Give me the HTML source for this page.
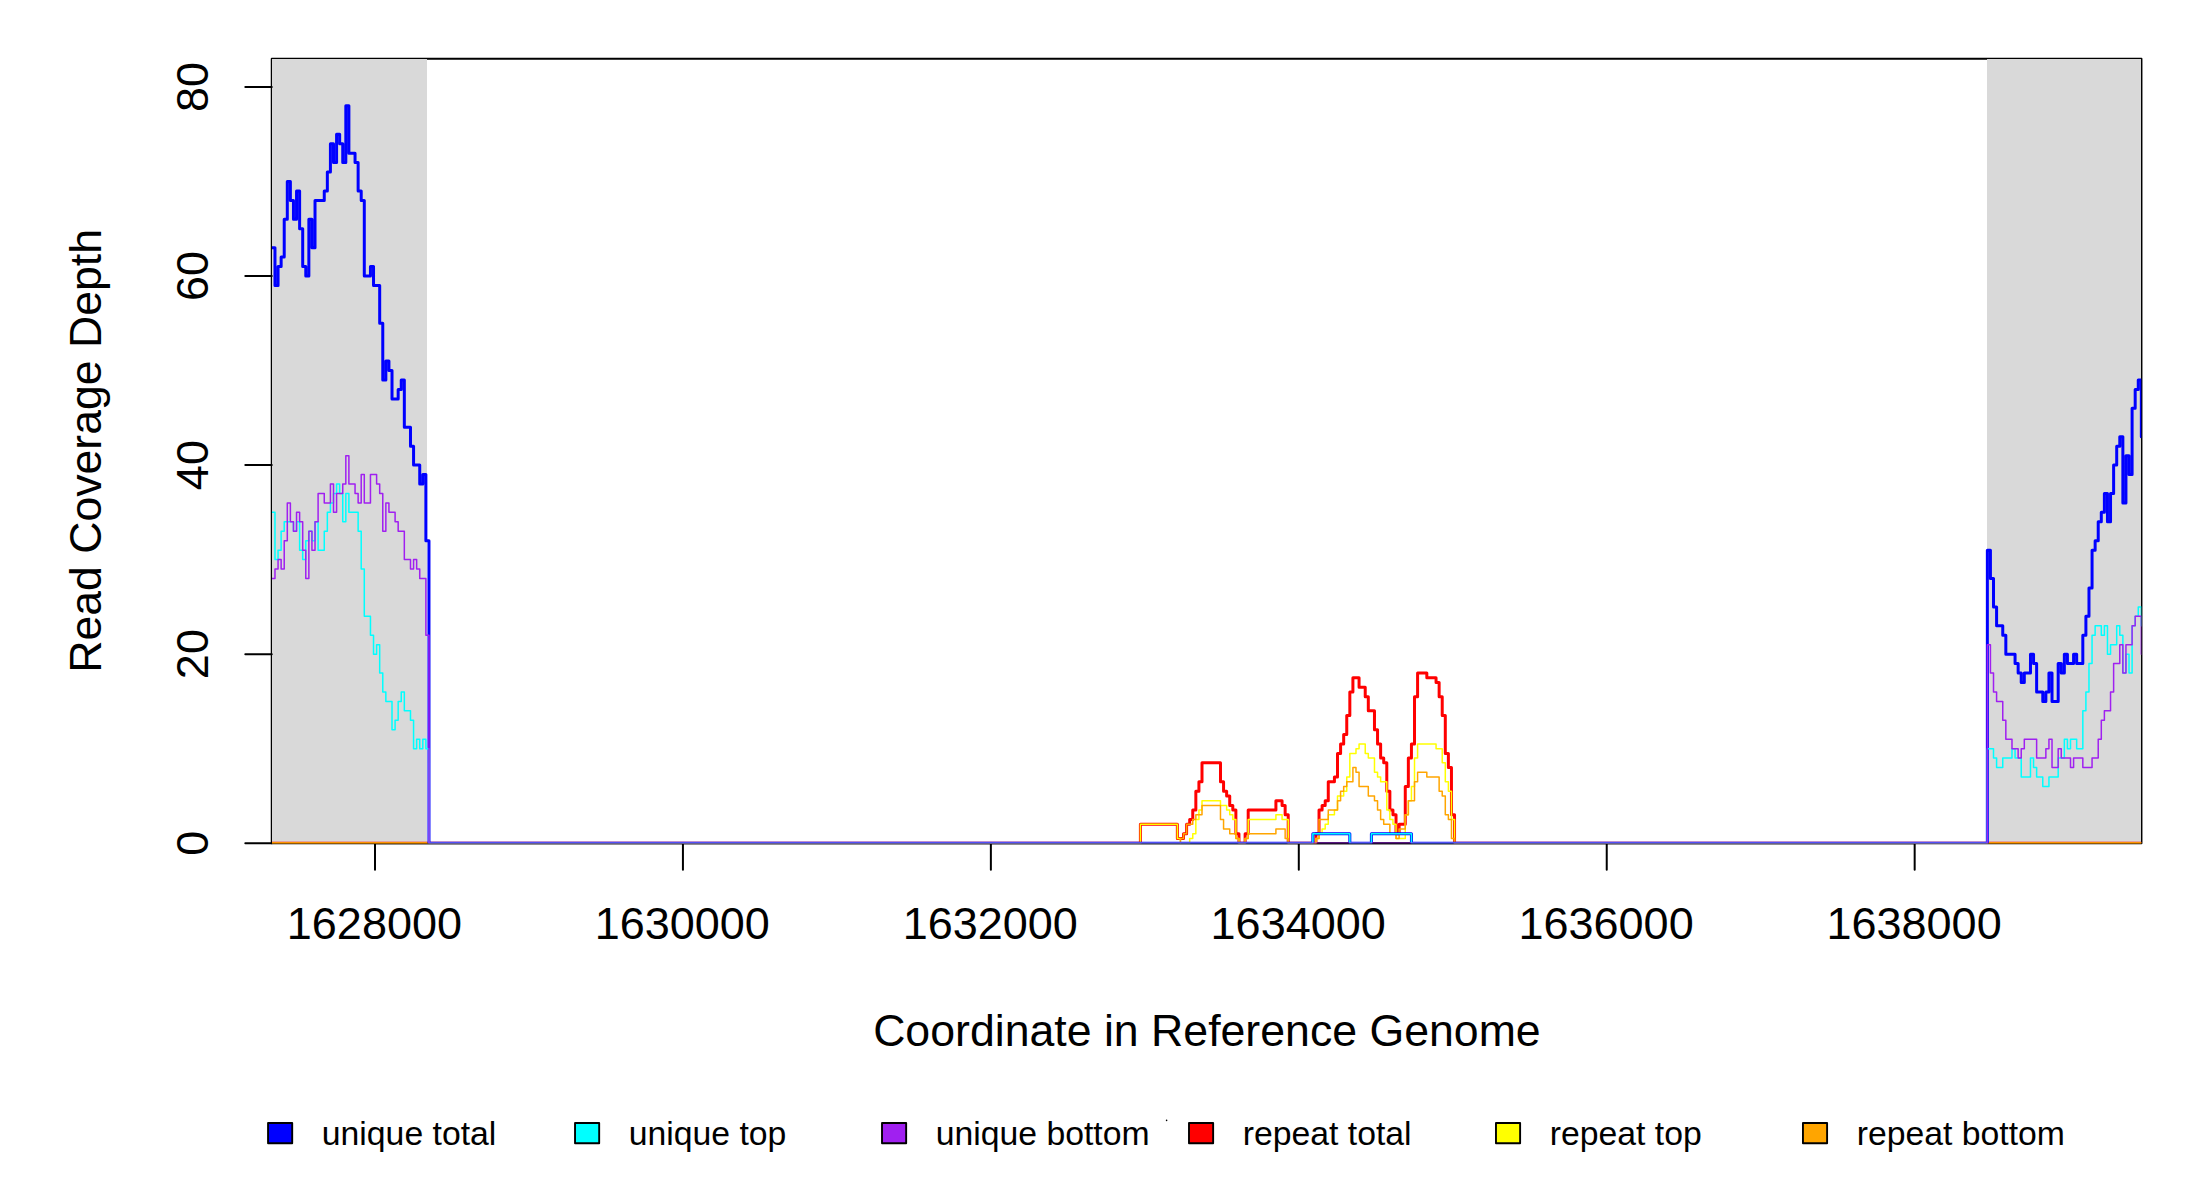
<!DOCTYPE html>
<html><head><meta charset="utf-8"><title>coverage</title>
<style>
html,body{margin:0;padding:0;background:#fff;}
svg{display:block;font-family:"Liberation Sans",sans-serif;}
text{fill:#000;}
.ax path{stroke:#000;stroke-width:2;stroke-linecap:round;fill:none;}
.dat path{fill:none;stroke-linejoin:round;stroke-linecap:round;}
</style></head><body>
<svg width="2200" height="1200" viewBox="0 0 2200 1200">
<defs><clipPath id="pc"><rect x="272.0" y="59.0" width="1869.30" height="784.30"/></clipPath></defs>
<rect width="2200" height="1200" fill="#fff"/>
<rect x="271.75" y="58.7" width="1869.70" height="784.65" fill="none" stroke="#000" stroke-width="2" stroke-linejoin="round"/>
<rect x="272" y="59" width="155" height="784" fill="#D9D9D9" shape-rendering="crispEdges"/>
<rect x="1987" y="59" width="154" height="784" fill="#D9D9D9" shape-rendering="crispEdges"/>
<g class="ax">
<path d="M375.00 843.35H1914.67"/><path d="M375.00 843.35V869.7"/><text x="374.4" y="939" text-anchor="middle" font-size="45">1628000</text>
<path d="M682.93 843.35V869.7"/><text x="682.3" y="939" text-anchor="middle" font-size="45">1630000</text>
<path d="M990.87 843.35V869.7"/><text x="990.3" y="939" text-anchor="middle" font-size="45">1632000</text>
<path d="M1298.80 843.35V869.7"/><text x="1298.2" y="939" text-anchor="middle" font-size="45">1634000</text>
<path d="M1606.74 843.35V869.7"/><text x="1606.1" y="939" text-anchor="middle" font-size="45">1636000</text>
<path d="M1914.67 843.35V869.7"/><text x="1914.1" y="939" text-anchor="middle" font-size="45">1638000</text>
<path d="M245.3 843.20H271.75"/><text transform="translate(207.7 843.2) rotate(-90)" text-anchor="middle" font-size="45">0</text>
<path d="M245.3 654.14H271.75"/><text transform="translate(207.7 654.1) rotate(-90)" text-anchor="middle" font-size="45">20</text>
<path d="M245.3 465.08H271.75"/><text transform="translate(207.7 465.1) rotate(-90)" text-anchor="middle" font-size="45">40</text>
<path d="M245.3 276.02H271.75"/><text transform="translate(207.7 276.0) rotate(-90)" text-anchor="middle" font-size="45">60</text>
<path d="M245.3 86.96H271.75"/><text transform="translate(207.7 87.0) rotate(-90)" text-anchor="middle" font-size="45">80</text>
</g>
<g class="dat" clip-path="url(#pc)">
<path d="M271.9 843.2H1140.4V824.29H1177.36V838.47H1183.52V833.75H1186.6V824.29H1189.68V819.57H1192.76V810.11H1195.84V791.21H1198.92V781.76H1202V762.85H1220.48V781.76H1223.56V791.21H1226.64V795.94H1229.72V805.39H1232.8V810.11H1235.88V833.75H1238.96V843.2H1245.12V833.75H1248.2V810.11H1275.91V800.66H1282.07V805.39H1285.15V814.84H1288.23V843.2H1315.95V833.75H1319.03V810.11H1322.11V805.39H1325.19V800.66H1328.27V781.76H1334.43V777.03H1337.51V753.4H1340.59V743.94H1343.67V734.49H1346.75V715.58H1349.83V691.95H1352.91V677.77H1359.07V687.23H1365.23V696.68H1368.31V710.86H1374.47V729.76H1377.55V743.94H1380.63V758.12H1383.71V762.85H1386.79V791.21H1389.87V810.11H1392.95V814.84H1396.03V833.75H1399.11V824.29H1405.27V786.48H1408.35V758.12H1411.43V743.94H1414.51V696.68H1417.59V673.05H1426.82V677.77H1436.06V682.5H1439.14V696.68H1442.22V715.58H1445.3V753.4H1448.38V767.58H1451.46V814.84H1454.54V843.2H2141.94" stroke="#FF0000" stroke-width="3.0"/>
<path d="M271.9 843.2H1140.4V824.29H1177.36V838.47H1180.44V843.2H1189.68V838.47H1192.76V833.75H1195.84V819.57H1198.92V810.11H1202V800.66H1220.48V805.39H1226.64V810.11H1229.72V814.84H1232.8V819.57H1235.88V838.47H1238.96V843.2H1245.12V838.47H1248.2V819.57H1275.91V814.84H1282.07V819.57H1288.23V843.2H1315.95V838.47H1319.03V833.75H1322.11V829.02H1325.19V824.29H1328.27V814.84H1334.43V810.11H1337.51V795.94H1343.67V791.21H1346.75V777.03H1349.83V753.4H1355.99V748.67H1359.07V743.94H1365.23V753.4H1368.31V758.12H1374.47V772.3H1377.55V777.03H1380.63V781.76H1386.79V810.11H1389.87V819.57H1392.95V824.29H1396.03V838.47H1405.27V814.84H1408.35V800.66H1411.43V786.48H1414.51V758.12H1417.59V743.94H1436.06V748.67H1442.22V762.85H1445.3V781.76H1448.38V791.21H1451.46V819.57H1454.54V843.2H2141.94" stroke="#FFFF00" stroke-width="1.5"/>
<path d="M271.9 843.2H1180.44V838.47H1183.52V833.75H1186.6V824.29H1192.76V819.57H1195.84V814.84H1202V805.39H1220.48V819.57H1223.56V829.02H1229.72V833.75H1235.88V838.47H1238.96V843.2H1245.12V838.47H1248.2V833.75H1275.91V829.02H1285.15V838.47H1288.23V843.2H1315.95V838.47H1319.03V819.57H1328.27V810.11H1337.51V800.66H1340.59V791.21H1343.67V786.48H1346.75V781.76H1352.91V767.58H1355.99V772.3H1359.07V786.48H1368.31V795.94H1374.47V800.66H1377.55V810.11H1380.63V819.57H1383.71V824.29H1389.87V833.75H1396.03V838.47H1399.11V829.02H1405.27V814.84H1408.35V800.66H1414.51V781.76H1417.59V772.3H1426.82V777.03H1439.14V791.21H1442.22V795.94H1445.3V814.84H1448.38V819.57H1451.46V838.47H1454.54V843.2H2141.94" stroke="#FFA500" stroke-width="1.5"/>
<path d="M271.9 247.66H274.98V285.47H278.06V266.57H281.14V257.11H284.22V219.3H287.3V181.49H290.38V200.4H293.46V219.3H296.54V190.94H299.62V228.76H302.7V266.57H305.78V276.02H308.86V219.3H311.94V247.66H315.02V200.4H324.26V190.94H327.34V172.04H330.42V143.68H333.5V162.58H336.58V134.23H339.66V143.68H342.74V162.58H345.82V105.87H348.89V153.13H355.05V162.58H358.13V190.94H361.21V200.4H364.29V276.02H370.45V266.57H373.53V285.47H379.69V323.29H382.77V380H385.85V361.1H388.93V370.55H392.01V398.91H398.17V389.46H401.25V380H404.33V427.27H410.49V446.17H413.57V465.08H419.73V483.99H422.81V474.53H425.89V540.7H428.97V843.2H1312.87V833.75H1349.83V843.2H1371.39V833.75H1411.43V843.2H1987.35V550.16H1990.43V578.52H1993.51V606.88H1996.59V625.78H2002.75V635.23H2005.83V654.14H2015.07V663.59H2018.15V673.05H2021.23V682.5H2024.31V673.05H2030.47V654.14H2033.55V663.59H2036.63V691.95H2042.78V701.41H2045.86V691.95H2048.94V673.05H2052.02V701.41H2058.18V663.59H2061.26V673.05H2064.34V654.14H2067.42V663.59H2073.58V654.14H2076.66V663.59H2082.82V635.23H2085.9V616.33H2088.98V587.97H2092.06V550.16H2095.14V540.7H2098.22V521.8H2101.3V512.35H2104.38V493.44H2107.46V521.8H2110.54V493.44H2113.62V465.08H2116.7V446.17H2119.78V436.72H2122.86V502.89H2125.94V455.63H2129.02V474.53H2132.1V408.36H2135.18V389.46H2138.26V380H2141.34V436.72H2141.94" stroke="#0000FF" stroke-width="3.0"/>
<path d="M271.9 512.35H274.98V559.61H278.06V550.16H281.14V531.25H284.22V521.8H293.46V531.25H296.54V521.8H299.62V550.16H302.7V559.61H305.78V540.7H308.86V531.25H311.94V540.7H315.02V521.8H318.1V550.16H324.26V531.25H327.34V512.35H330.42V502.89H333.5V493.44H336.58V483.99H339.66V493.44H342.74V521.8H345.82V493.44H348.89V512.35H358.13V531.25H361.21V569.06H364.29V616.33H370.45V635.23H373.53V654.14H376.61V644.69H379.69V673.05H382.77V691.95H385.85V701.41H392.01V729.76H395.09V720.31H398.17V701.41H401.25V691.95H404.33V710.86H410.49V720.31H413.57V748.67H416.65V739.22H419.73V748.67H422.81V739.22H425.89V748.67H428.97V843.2H1312.87V833.75H1349.83V843.2H1371.39V833.75H1411.43V843.2H1987.35V748.67H1993.51V758.12H1996.59V767.58H2002.75V758.12H2011.99V748.67H2015.07V758.12H2021.23V777.03H2030.47V758.12H2033.55V767.58H2036.63V777.03H2042.78V786.48H2048.94V777.03H2058.18V758.12H2064.34V739.22H2067.42V748.67H2070.5V739.22H2076.66V748.67H2082.82V710.86H2085.9V691.95H2088.98V663.59H2092.06V635.23H2095.14V625.78H2101.3V635.23H2104.38V625.78H2107.46V654.14H2110.54V644.69H2116.7V625.78H2119.78V635.23H2122.86V673.05H2125.94V654.14H2129.02V673.05H2132.1V625.78H2135.18V616.33H2138.26V606.88H2141.34V625.78H2141.94" stroke="#00FFFF" stroke-width="1.5"/>
<path d="M271.9 578.52H274.98V569.06H278.06V559.61H281.14V569.06H284.22V540.7H287.3V502.89H290.38V521.8H293.46V531.25H296.54V512.35H299.62V521.8H302.7V550.16H305.78V578.52H308.86V531.25H311.94V550.16H315.02V521.8H318.1V493.44H324.26V502.89H330.42V483.99H333.5V512.35H336.58V493.44H342.74V483.99H345.82V455.63H348.89V483.99H355.05V493.44H358.13V502.89H361.21V474.53H364.29V502.89H370.45V474.53H376.61V483.99H379.69V493.44H382.77V531.25H385.85V502.89H388.93V512.35H395.09V521.8H398.17V531.25H404.33V559.61H410.49V569.06H413.57V559.61H416.65V569.06H419.73V578.52H425.89V635.23H428.97V843.2H1987.35V644.69H1990.43V673.05H1993.51V691.95H1996.59V701.41H2002.75V720.31H2005.83V739.22H2011.99V748.67H2018.15V758.12H2021.23V748.67H2024.31V739.22H2036.63V758.12H2045.86V748.67H2048.94V739.22H2052.02V767.58H2058.18V748.67H2061.26V758.12H2070.5V767.58H2073.58V758.12H2082.82V767.58H2092.06V758.12H2098.22V739.22H2101.3V720.31H2104.38V710.86H2110.54V691.95H2113.62V663.59H2119.78V644.69H2122.86V673.05H2125.94V644.69H2132.1V625.78H2135.18V616.33H2141.34V654.14H2141.94" stroke="#A020F0" stroke-width="1.5"/>
</g>
<text x="1206.9" y="1046" text-anchor="middle" font-size="44.65">Coordinate in Reference Genome</text>
<text transform="translate(100.7 450.9) rotate(-90)" text-anchor="middle" font-size="44.6">Read Coverage Depth</text>
<rect x="268.05" y="1122.95" width="24.15" height="20.25" fill="#0000FF" stroke="#000" stroke-width="1.9" stroke-linejoin="round"/><text x="321.8" y="1144.5" font-size="33.75">unique total</text>
<rect x="575.03" y="1122.95" width="24.15" height="20.25" fill="#00FFFF" stroke="#000" stroke-width="1.9" stroke-linejoin="round"/><text x="628.7" y="1144.5" font-size="33.75">unique top</text>
<rect x="882.01" y="1122.95" width="24.15" height="20.25" fill="#A020F0" stroke="#000" stroke-width="1.9" stroke-linejoin="round"/><text x="935.7" y="1144.5" font-size="33.75">unique bottom</text>
<rect x="1188.99" y="1122.95" width="24.15" height="20.25" fill="#FF0000" stroke="#000" stroke-width="1.9" stroke-linejoin="round"/><text x="1242.7" y="1144.5" font-size="33.75">repeat total</text>
<rect x="1495.97" y="1122.95" width="24.15" height="20.25" fill="#FFFF00" stroke="#000" stroke-width="1.9" stroke-linejoin="round"/><text x="1549.7" y="1144.5" font-size="33.75">repeat top</text>
<rect x="1802.95" y="1122.95" width="24.15" height="20.25" fill="#FFA500" stroke="#000" stroke-width="1.9" stroke-linejoin="round"/><text x="1856.7" y="1144.5" font-size="33.75">repeat bottom</text>

<circle cx="1166.6" cy="1120.4" r="0.8" fill="#000"/>
</svg>
</body></html>
